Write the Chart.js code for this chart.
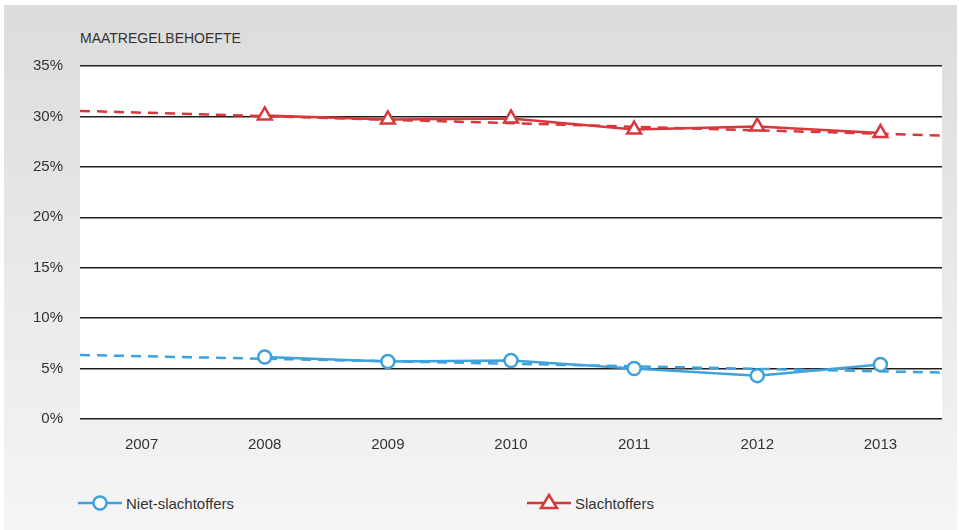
<!DOCTYPE html>
<html>
<head>
<meta charset="utf-8">
<script src="https://cdn.jsdelivr.net/npm/chart.js@4"></script>
<style>
  html, body { margin: 0; padding: 0; background: #fff; }
  body { width: 959px; height: 530px; position: relative; overflow: hidden; font-family: "Liberation Sans", Arial, sans-serif; }
  #panel { position: absolute; left: 4px; top: 5px; width: 953px; height: 525px; background: linear-gradient(#dcdcdc, #f5f5f5); }
  #chartTitle { position: absolute; left: 80px; top: 30px; font-size: 14px; color: #333; letter-spacing: 0; }
  #wrap { position: absolute; left: 0; top: 0; width: 959px; height: 470px; }
  #legend { position: absolute; left: 0; top: 492px; width: 959px; height: 22px; font-size: 15px; color: #333; }
  .item { position: absolute; top: 0; display: flex; align-items: center; height: 22px; }
  .item canvas { margin-right: 4px; }
</style>
</head>
<body>
<div id="panel"></div>
<div id="chartTitle">MAATREGELBEHOEFTE</div>
<div id="wrap"><canvas id="trendChart"></canvas></div>
<div id="legend"></div>
<script>
// jaren op de x-as
const years = ['2007', '2008', '2009', '2010', '2011', '2012', '2013'];
// waarden in procenten (2007 ontbreekt)
const nietSlachtoffers = [null, 6.15, 5.7, 5.8, 5.0, 4.3, 5.4];
const slachtoffers = [null, 30.1, 29.7, 29.8, 28.7, 29.0, 28.35];
// trendlijnen: begin- en eindwaarde aan de randen van het plotvlak
const trendNiet = [6.35, 4.6];
const trendSlacht = [30.55, 28.1];
const yTicks = [0, 5, 10, 15, 20, 25, 30, 35];

const blue = '#3ea2dc';
const red = '#d8383c';

const plotBg = {
    id: 'plotBg',
    beforeDraw(chart) {
        const a = chart.chartArea;
        const ctx = chart.ctx;
        ctx.save();
        ctx.fillStyle = '#ffffff';
        ctx.fillRect(a.left, a.top, a.right - a.left, a.bottom - a.top);
        ctx.restore();
    }
};

const ctx = document.getElementById('trendChart').getContext('2d');
const chart = new Chart(ctx, {
    type: 'line',
    data: {
        labels: years,
        datasets: [
            {
                label: 'trend niet',
                data: [{ x: -0.5, y: trendNiet[0] }, { x: years.length - 0.5, y: trendNiet[1] }],
                xAxisID: 'xt',
                borderColor: blue,
                borderWidth: 2.5,
                borderDash: [10, 7],
                pointRadius: 0,
                order: 4
            },
            {
                label: 'trend slacht',
                data: [{ x: -0.5, y: trendSlacht[0] }, { x: years.length - 0.5, y: trendSlacht[1] }],
                xAxisID: 'xt',
                borderColor: red,
                borderWidth: 2.5,
                borderDash: [10, 7],
                pointRadius: 0,
                order: 3
            },
            {
                label: 'Niet-slachtoffers',
                data: nietSlachtoffers,
                borderColor: blue,
                borderWidth: 2.5,
                pointStyle: 'circle',
                pointRadius: 6.5,
                pointBorderWidth: 2.5,
                pointBackgroundColor: '#ffffff',
                pointBorderColor: blue,
                order: 2
            },
            {
                label: 'Slachtoffers',
                data: slachtoffers,
                borderColor: red,
                borderWidth: 2.5,
                pointStyle: 'triangle',
                pointRadius: 8,
                pointBorderWidth: 2.5,
                pointBackgroundColor: '#ffffff',
                pointBorderColor: red,
                order: 1
            }
        ]
    },
    options: {
        responsive: true,
        maintainAspectRatio: false,
        animation: false,
        layout: { padding: { top: 66, right: 17, left: 0, bottom: 0 } },
        plugins: { legend: { display: false }, tooltip: { enabled: false } },
        scales: {
            x: {
                offset: true,
                grid: { display: false, drawTicks: false },
                border: { display: false },
                ticks: { color: '#333', font: { family: 'Liberation Sans', size: 15 }, padding: 17 },
                afterFit: s => { s.height = 51; }
            },
            xt: {
                type: 'linear',
                display: false,
                min: -0.5,
                max: years.length - 0.5
            },
            y: {
                min: 0,
                max: 35,
                afterBuildTicks: s => { s.ticks = yTicks.map(v => ({ value: v })); },
                grid: { color: '#1e1e1e', lineWidth: 1.5, drawTicks: false },
                border: { display: false },
                ticks: { color: '#333', font: { family: 'Liberation Sans', size: 15 }, padding: 17, callback: v => v + '%' },
                afterFit: s => { s.width = 80; }
            }
        }
    },
    plugins: [plotBg]
});

// eigen legenda met lijn + marker
const legendEl = document.getElementById('legend');
const legendX = [78, 527];
chart.data.datasets.filter(d => !d.xAxisID).forEach((d, i) => {
    const item = document.createElement('div');
    item.className = 'item';
    item.style.left = legendX[i] + 'px';
    const c = document.createElement('canvas');
    c.width = 44; c.height = 22;
    const g = c.getContext('2d');
    g.strokeStyle = d.borderColor;
    g.lineWidth = 2.5;
    g.beginPath(); g.moveTo(0, 11); g.lineTo(44, 11); g.stroke();
    g.fillStyle = '#ffffff';
    g.beginPath();
    if (d.pointStyle === 'circle') {
        g.arc(22, 11, 6.5, 0, Math.PI * 2);
    } else {
        g.moveTo(22, 3); g.lineTo(30, 16); g.lineTo(14, 16); g.closePath();
    }
    g.fill(); g.stroke();
    item.appendChild(c);
    const t = document.createElement('span');
    t.textContent = d.label;
    item.appendChild(t);
    legendEl.appendChild(item);
});
</script>
</body>
</html>
